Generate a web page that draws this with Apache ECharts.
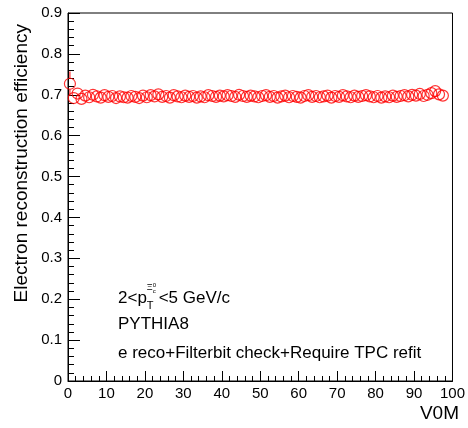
<!DOCTYPE html>
<html>
<head>
<meta charset="utf-8">
<script src="https://cdn.jsdelivr.net/npm/echarts@6/dist/echarts.min.js"></script>
<style>
  html, body { margin: 0; padding: 0; background: #fff; }
  #chart { width: 468px; height: 428px; }
</style>
</head>
<body>
<div id="chart"></div>
<script>
// Bin centres along V0M (bin width 1)
const v0mBins = [];
for (let i = 0; i < 98; i++) v0mBins.push(i + 0.5);

// Electron reconstruction efficiency per V0M bin
const efficiency = [
  0.727, 0.692, 0.703, 0.690, 0.698, 0.694, 0.700, 0.696, 0.693, 0.699,
  0.695, 0.697, 0.692, 0.696, 0.694, 0.693, 0.697, 0.695, 0.692, 0.698,
  0.694, 0.699, 0.696, 0.701, 0.695, 0.697, 0.693, 0.699, 0.696, 0.694,
  0.698, 0.695, 0.697, 0.693, 0.696, 0.694, 0.699, 0.697, 0.695, 0.698,
  0.696, 0.699, 0.697, 0.695, 0.700, 0.697, 0.695, 0.698, 0.696, 0.694,
  0.697, 0.699, 0.695, 0.697, 0.693, 0.696, 0.698, 0.694, 0.697, 0.695,
  0.693, 0.697, 0.699, 0.695, 0.697, 0.694, 0.696, 0.698, 0.693, 0.697,
  0.695, 0.699, 0.696, 0.694, 0.698, 0.695, 0.697, 0.699, 0.696, 0.694,
  0.697, 0.693, 0.696, 0.694, 0.698, 0.695, 0.697, 0.699, 0.696, 0.700,
  0.698, 0.702, 0.697, 0.700, 0.704, 0.709, 0.701, 0.698
];

// Statistical uncertainty per bin
const efficiencyErr = [
  0.030, 0.012, 0.008, 0.007, 0.006, 0.006, 0.005, 0.005, 0.005, 0.005,
  0.005, 0.005, 0.005, 0.005, 0.005, 0.005, 0.005, 0.005, 0.005, 0.005,
  0.005, 0.005, 0.005, 0.005, 0.005, 0.005, 0.005, 0.005, 0.005, 0.005,
  0.005, 0.005, 0.005, 0.005, 0.005, 0.005, 0.005, 0.005, 0.005, 0.005,
  0.005, 0.005, 0.005, 0.005, 0.005, 0.005, 0.005, 0.005, 0.005, 0.005,
  0.005, 0.005, 0.005, 0.005, 0.005, 0.005, 0.005, 0.005, 0.005, 0.005,
  0.005, 0.005, 0.005, 0.005, 0.005, 0.005, 0.005, 0.005, 0.005, 0.005,
  0.005, 0.005, 0.005, 0.005, 0.005, 0.005, 0.005, 0.005, 0.005, 0.005,
  0.005, 0.005, 0.005, 0.005, 0.005, 0.005, 0.005, 0.005, 0.005, 0.005,
  0.005, 0.005, 0.005, 0.005, 0.006, 0.006, 0.007, 0.008
];

const xTickLabels = ['0', '10', '20', '30', '40', '50', '60', '70', '80', '90', '100'];
const yTickLabels = ['0', '0.1', '0.2', '0.3', '0.4', '0.5', '0.6', '0.7', '0.8', '0.9'];

const FONT = '"Liberation Sans", Arial, Helvetica, sans-serif';
const RED = '#ff0000';
const MARKER_R = 5.5;

const points = v0mBins.map((x, i) => [x, efficiency[i]]);
const errBars = v0mBins.map((x, i) => [x, efficiency[i], efficiencyErr[i]]);

// Measure text widths for the composed kinematic label
const mctx = document.createElement('canvas').getContext('2d');
function textWidth(str, size) {
  mctx.font = size + 'px ' + FONT;
  return mctx.measureText(str).width;
}

const chart = echarts.init(document.getElementById('chart'), null, { renderer: 'canvas' });

const textX = 118;
const TXT = 17;
const ptPart1 = '2<p';
const w1 = textWidth(ptPart1, TXT);
const wSub = Math.max(textWidth('T', 11), textWidth('Ξ', 9) + 5) + 1;

const option = {
  animation: false,
  backgroundColor: '#ffffff',
  grid: {
    left: 68, right: 11, top: 13, bottom: 47,
    show: true, borderColor: '#000', borderWidth: 1, backgroundColor: 'transparent'
  },
  xAxis: {
    type: 'value', min: 0, max: 100, interval: 10,
    axisLine: { show: true, onZero: false, lineStyle: { color: '#000', width: 1 } },
    axisTick: { show: true, inside: true, length: 10, lineStyle: { color: '#000' } },
    minorTick: { show: true, splitNumber: 5, length: 5, lineStyle: { color: '#000' } },
    splitLine: { show: false },
    axisLabel: {
      color: '#000', fontFamily: FONT, fontSize: 15, margin: 5,
      formatter: (v) => xTickLabels[Math.round(v / 10)] || ''
    }
  },
  yAxis: {
    type: 'value', min: 0, max: 0.9, interval: 0.1,
    axisLine: { show: true, onZero: false, lineStyle: { color: '#000', width: 1 } },
    axisTick: { show: true, inside: true, length: 12, lineStyle: { color: '#000' } },
    minorTick: { show: true, splitNumber: 5, length: 6, lineStyle: { color: '#000' } },
    splitLine: { show: false },
    axisLabel: {
      color: '#000', fontFamily: FONT, fontSize: 15, margin: 6,
      formatter: (v) => yTickLabels[Math.round(v * 10)] || ''
    }
  },
  series: [
    {
      // Vertical error bars, drawn only where they stick out of the marker
      type: 'custom',
      data: errBars,
      clip: true,
      renderItem: function (params, api) {
        const x = api.value(0), y = api.value(1), e = api.value(2);
        const c = api.coord([x, y]);
        const top = api.coord([x, y + e]);
        const bot = api.coord([x, y - e]);
        const children = [];
        if (c[1] - top[1] > MARKER_R) {
          children.push({ type: 'line', shape: { x1: c[0], y1: top[1], x2: c[0], y2: c[1] - MARKER_R },
            style: { stroke: RED, lineWidth: 1 } });
        }
        if (bot[1] - c[1] > MARKER_R) {
          children.push({ type: 'line', shape: { x1: c[0], y1: c[1] + MARKER_R, x2: c[0], y2: bot[1] },
            style: { stroke: RED, lineWidth: 1 } });
        }
        return { type: 'group', children: children };
      },
      silent: true
    },
    {
      type: 'scatter',
      data: points,
      symbol: 'circle',
      symbolSize: MARKER_R * 2,
      itemStyle: { color: 'rgba(0,0,0,0)', borderColor: RED, borderWidth: 1.2 },
      silent: true
    }
  ],
  graphic: [
    {
      type: 'text', x: 22, y: 24, rotation: Math.PI / 2,
      style: { text: 'Electron reconstruction efficiency', fill: '#000', font: '19px ' + FONT,
        textAlign: 'right', textVerticalAlign: 'middle' }
    },
    {
      type: 'text', x: 459, y: 414,
      style: { text: 'V0M', fill: '#000', font: '19px ' + FONT, textAlign: 'right', textVerticalAlign: 'middle' }
    },
    {
      type: 'text', x: textX, y: 298,
      style: { text: ptPart1, fill: '#000', font: TXT + 'px ' + FONT, textAlign: 'left', textVerticalAlign: 'middle' }
    },
    {
      type: 'text', x: textX + w1, y: 306,
      style: { text: 'T', fill: '#000', font: '11px ' + FONT, textAlign: 'left', textVerticalAlign: 'middle' }
    },
    {
      type: 'text', x: textX + w1, y: 288,
      style: { text: 'Ξ', fill: '#000', font: '9px ' + FONT, textAlign: 'left', textVerticalAlign: 'middle' }
    },
    {
      type: 'text', x: textX + w1 + textWidth('Ξ', 9), y: 285,
      style: { text: '0', fill: '#000', font: '6px ' + FONT, textAlign: 'left', textVerticalAlign: 'middle' }
    },
    {
      type: 'text', x: textX + w1 + textWidth('Ξ', 9), y: 291,
      style: { text: 'c', fill: '#000', font: '6px ' + FONT, textAlign: 'left', textVerticalAlign: 'middle' }
    },
    {
      type: 'text', x: textX + w1 + wSub, y: 298,
      style: { text: '<5 GeV/c', fill: '#000', font: TXT + 'px ' + FONT, textAlign: 'left', textVerticalAlign: 'middle' }
    },
    {
      type: 'text', x: textX, y: 324,
      style: { text: 'PYTHIA8', fill: '#000', font: TXT + 'px ' + FONT, textAlign: 'left', textVerticalAlign: 'middle' }
    },
    {
      type: 'text', x: textX, y: 353,
      style: { text: 'e reco+Filterbit check+Require TPC refit', fill: '#000', font: TXT + 'px ' + FONT,
        textAlign: 'left', textVerticalAlign: 'middle' }
    }
  ]
};

chart.setOption(option);
</script>
</body>
</html>
